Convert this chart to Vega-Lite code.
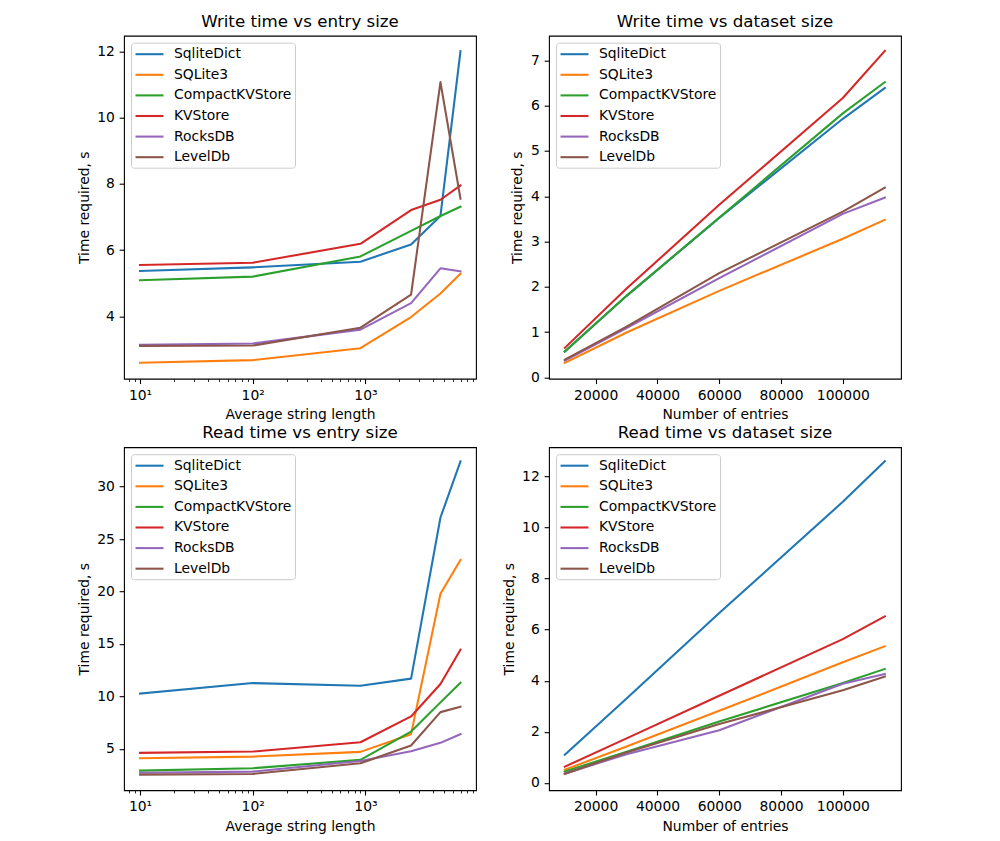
{
  "$schema": "https://vega.github.io/schema/vega-lite/v6.json",
  "background": "white",
  "padding": {"left": 76, "top": 12.7, "right": 5, "bottom": 5},
  "columns": 2,
  "spacing": {"row": 1.5, "column": 24},
  "datasets": {
    "A": [
      {"series": "SqliteDict", "x": 10, "y": 5.37}, {"series": "SqliteDict", "x": 100, "y": 5.48}, {"series": "SqliteDict", "x": 903, "y": 5.65}, {"series": "SqliteDict", "x": 2540, "y": 6.17}, {"series": "SqliteDict", "x": 4630, "y": 7.03}, {"series": "SqliteDict", "x": 6970, "y": 12.0},
      {"series": "SQLite3", "x": 10, "y": 2.60}, {"series": "SQLite3", "x": 100, "y": 2.68}, {"series": "SQLite3", "x": 903, "y": 3.04}, {"series": "SQLite3", "x": 2540, "y": 3.98}, {"series": "SQLite3", "x": 4630, "y": 4.69}, {"series": "SQLite3", "x": 6970, "y": 5.29},
      {"series": "CompactKVStore", "x": 10, "y": 5.09}, {"series": "CompactKVStore", "x": 100, "y": 5.20}, {"series": "CompactKVStore", "x": 903, "y": 5.81}, {"series": "CompactKVStore", "x": 2540, "y": 6.58}, {"series": "CompactKVStore", "x": 4630, "y": 7.03}, {"series": "CompactKVStore", "x": 6970, "y": 7.31},
      {"series": "KVStore", "x": 10, "y": 5.55}, {"series": "KVStore", "x": 100, "y": 5.62}, {"series": "KVStore", "x": 903, "y": 6.19}, {"series": "KVStore", "x": 2540, "y": 7.21}, {"series": "KVStore", "x": 4630, "y": 7.52}, {"series": "KVStore", "x": 6970, "y": 7.95},
      {"series": "RocksDB", "x": 10, "y": 3.14}, {"series": "RocksDB", "x": 100, "y": 3.18}, {"series": "RocksDB", "x": 903, "y": 3.60}, {"series": "RocksDB", "x": 2540, "y": 4.40}, {"series": "RocksDB", "x": 4630, "y": 5.45}, {"series": "RocksDB", "x": 6970, "y": 5.36},
      {"series": "LevelDb", "x": 10, "y": 3.11}, {"series": "LevelDb", "x": 100, "y": 3.12}, {"series": "LevelDb", "x": 903, "y": 3.66}, {"series": "LevelDb", "x": 2540, "y": 4.66}, {"series": "LevelDb", "x": 4630, "y": 11.07}, {"series": "LevelDb", "x": 6970, "y": 7.55}
    ],
    "B": [
      {"series": "SqliteDict", "x": 10000, "y": 0.57}, {"series": "SqliteDict", "x": 30000, "y": 1.80}, {"series": "SqliteDict", "x": 60000, "y": 3.52}, {"series": "SqliteDict", "x": 100000, "y": 5.71}, {"series": "SqliteDict", "x": 113600, "y": 6.39},
      {"series": "SQLite3", "x": 10000, "y": 0.32}, {"series": "SQLite3", "x": 30000, "y": 0.99}, {"series": "SQLite3", "x": 60000, "y": 1.91}, {"series": "SQLite3", "x": 100000, "y": 3.06}, {"series": "SQLite3", "x": 113600, "y": 3.48},
      {"series": "CompactKVStore", "x": 10000, "y": 0.57}, {"series": "CompactKVStore", "x": 30000, "y": 1.80}, {"series": "CompactKVStore", "x": 60000, "y": 3.53}, {"series": "CompactKVStore", "x": 100000, "y": 5.83}, {"series": "CompactKVStore", "x": 113600, "y": 6.52},
      {"series": "KVStore", "x": 10000, "y": 0.65}, {"series": "KVStore", "x": 30000, "y": 1.96}, {"series": "KVStore", "x": 60000, "y": 3.81}, {"series": "KVStore", "x": 100000, "y": 6.17}, {"series": "KVStore", "x": 113600, "y": 7.21},
      {"series": "RocksDB", "x": 10000, "y": 0.37}, {"series": "RocksDB", "x": 30000, "y": 1.09}, {"series": "RocksDB", "x": 60000, "y": 2.19}, {"series": "RocksDB", "x": 100000, "y": 3.61}, {"series": "RocksDB", "x": 113600, "y": 3.97},
      {"series": "LevelDb", "x": 10000, "y": 0.39}, {"series": "LevelDb", "x": 30000, "y": 1.12}, {"series": "LevelDb", "x": 60000, "y": 2.30}, {"series": "LevelDb", "x": 100000, "y": 3.66}, {"series": "LevelDb", "x": 113600, "y": 4.19}
    ],
    "C": [
      {"series": "SqliteDict", "x": 10, "y": 10.26}, {"series": "SqliteDict", "x": 100, "y": 11.27}, {"series": "SqliteDict", "x": 903, "y": 11.02}, {"series": "SqliteDict", "x": 2540, "y": 11.69}, {"series": "SqliteDict", "x": 4630, "y": 27.05}, {"series": "SqliteDict", "x": 6970, "y": 32.4},
      {"series": "SQLite3", "x": 10, "y": 4.10}, {"series": "SQLite3", "x": 100, "y": 4.26}, {"series": "SQLite3", "x": 903, "y": 4.71}, {"series": "SQLite3", "x": 2540, "y": 6.40}, {"series": "SQLite3", "x": 4630, "y": 19.78}, {"series": "SQLite3", "x": 6970, "y": 23.0},
      {"series": "CompactKVStore", "x": 10, "y": 2.93}, {"series": "CompactKVStore", "x": 100, "y": 3.15}, {"series": "CompactKVStore", "x": 903, "y": 3.95}, {"series": "CompactKVStore", "x": 2540, "y": 6.65}, {"series": "CompactKVStore", "x": 4630, "y": 9.43}, {"series": "CompactKVStore", "x": 6970, "y": 11.31},
      {"series": "KVStore", "x": 10, "y": 4.62}, {"series": "KVStore", "x": 100, "y": 4.74}, {"series": "KVStore", "x": 903, "y": 5.63}, {"series": "KVStore", "x": 2540, "y": 8.09}, {"series": "KVStore", "x": 4630, "y": 11.18}, {"series": "KVStore", "x": 6970, "y": 14.46},
      {"series": "RocksDB", "x": 10, "y": 2.73}, {"series": "RocksDB", "x": 100, "y": 2.83}, {"series": "RocksDB", "x": 903, "y": 3.85}, {"series": "RocksDB", "x": 2540, "y": 4.77}, {"series": "RocksDB", "x": 4630, "y": 5.57}, {"series": "RocksDB", "x": 6970, "y": 6.40},
      {"series": "LevelDb", "x": 10, "y": 2.54}, {"series": "LevelDb", "x": 100, "y": 2.61}, {"series": "LevelDb", "x": 903, "y": 3.62}, {"series": "LevelDb", "x": 2540, "y": 5.32}, {"series": "LevelDb", "x": 4630, "y": 8.50}, {"series": "LevelDb", "x": 6970, "y": 9.02}
    ],
    "D": [
      {"series": "SqliteDict", "x": 10000, "y": 1.10}, {"series": "SqliteDict", "x": 30000, "y": 3.30}, {"series": "SqliteDict", "x": 60000, "y": 6.65}, {"series": "SqliteDict", "x": 100000, "y": 11.01}, {"series": "SqliteDict", "x": 113600, "y": 12.6},
      {"series": "SQLite3", "x": 10000, "y": 0.51}, {"series": "SQLite3", "x": 30000, "y": 1.42}, {"series": "SQLite3", "x": 60000, "y": 2.82}, {"series": "SQLite3", "x": 100000, "y": 4.72}, {"series": "SQLite3", "x": 113600, "y": 5.35},
      {"series": "CompactKVStore", "x": 10000, "y": 0.44}, {"series": "CompactKVStore", "x": 30000, "y": 1.22}, {"series": "CompactKVStore", "x": 60000, "y": 2.40}, {"series": "CompactKVStore", "x": 100000, "y": 3.91}, {"series": "CompactKVStore", "x": 113600, "y": 4.46},
      {"series": "KVStore", "x": 10000, "y": 0.63}, {"series": "KVStore", "x": 30000, "y": 1.74}, {"series": "KVStore", "x": 60000, "y": 3.41}, {"series": "KVStore", "x": 100000, "y": 5.63}, {"series": "KVStore", "x": 113600, "y": 6.52},
      {"series": "RocksDB", "x": 10000, "y": 0.36}, {"series": "RocksDB", "x": 30000, "y": 1.12}, {"series": "RocksDB", "x": 60000, "y": 2.06}, {"series": "RocksDB", "x": 100000, "y": 3.88}, {"series": "RocksDB", "x": 113600, "y": 4.26},
      {"series": "LevelDb", "x": 10000, "y": 0.35}, {"series": "LevelDb", "x": 30000, "y": 1.19}, {"series": "LevelDb", "x": 60000, "y": 2.30}, {"series": "LevelDb", "x": 100000, "y": 3.63}, {"series": "LevelDb", "x": 113600, "y": 4.16}
    ]
  },
  "concat": [
    {
      "width": 352, "height": 343,
      "title": "Write time vs entry size",
      "data": {"name": "A"},
      "mark": {"type": "line", "strokeWidth": 2.08, "strokeJoin": "round", "strokeCap": "square"},
      "encoding": {
        "x": {"field": "x", "type": "quantitative",
          "scale": {"type": "log", "domain": [7.21, 9570], "nice": false},
          "axis": {"title": "Average string length",
            "values": [8, 9, 10, 20, 30, 40, 50, 60, 70, 80, 90, 100, 200, 300, 400, 500, 600, 700, 800, 900, 1000, 2000, 3000, 4000, 5000, 6000, 7000, 8000, 9000],
            "labelExpr": "datum.value == 10 ? '10¹' : datum.value == 100 ? '10²' : datum.value == 1000 ? '10³' : ''",
            "tickSize": {"condition": {"test": "datum.value == 10 || datum.value == 100 || datum.value == 1000", "value": 4.86}, "value": 2.78},
            "tickWidth": {"condition": {"test": "datum.value == 10 || datum.value == 100 || datum.value == 1000", "value": 1.1}, "value": 0.83}}},
        "y": {"field": "y", "type": "quantitative",
          "scale": {"domain": [2.12, 12.47], "nice": false, "zero": false},
          "axis": {"title": "Time required, s", "values": [4, 6, 8, 10, 12]}},
        "color": {"field": "series", "type": "nominal",
          "scale": {"domain": ["SqliteDict", "SQLite3", "CompactKVStore", "KVStore", "RocksDB", "LevelDb"], "range": ["#1f77b4", "#ff7f0e", "#2ca02c", "#d62728", "#9467bd", "#8c564b"]},
          "legend": {"title": null}}
      }
    },
    {
      "width": 352, "height": 343,
      "title": "Write time vs dataset size",
      "data": {"name": "B"},
      "mark": {"type": "line", "strokeWidth": 2.08, "strokeJoin": "round", "strokeCap": "square"},
      "encoding": {
        "x": {"field": "x", "type": "quantitative",
          "scale": {"domain": [4890, 118830], "nice": false, "zero": false},
          "axis": {"title": "Number of entries", "values": [20000, 40000, 60000, 80000, 100000], "format": "d"}},
        "y": {"field": "y", "type": "quantitative",
          "scale": {"domain": [-0.03, 7.545], "nice": false, "zero": false},
          "axis": {"title": "Time required, s", "values": [0, 1, 2, 3, 4, 5, 6, 7], "format": "d"}},
        "color": {"field": "series", "type": "nominal",
          "scale": {"domain": ["SqliteDict", "SQLite3", "CompactKVStore", "KVStore", "RocksDB", "LevelDb"], "range": ["#1f77b4", "#ff7f0e", "#2ca02c", "#d62728", "#9467bd", "#8c564b"]},
          "legend": {"title": null}}
      }
    },
    {
      "width": 352, "height": 343,
      "title": "Read time vs entry size",
      "data": {"name": "C"},
      "mark": {"type": "line", "strokeWidth": 2.08, "strokeJoin": "round", "strokeCap": "square"},
      "encoding": {
        "x": {"field": "x", "type": "quantitative",
          "scale": {"type": "log", "domain": [7.21, 9570], "nice": false},
          "axis": {"title": "Average string length",
            "values": [8, 9, 10, 20, 30, 40, 50, 60, 70, 80, 90, 100, 200, 300, 400, 500, 600, 700, 800, 900, 1000, 2000, 3000, 4000, 5000, 6000, 7000, 8000, 9000],
            "labelExpr": "datum.value == 10 ? '10¹' : datum.value == 100 ? '10²' : datum.value == 1000 ? '10³' : ''",
            "tickSize": {"condition": {"test": "datum.value == 10 || datum.value == 100 || datum.value == 1000", "value": 4.86}, "value": 2.78},
            "tickWidth": {"condition": {"test": "datum.value == 10 || datum.value == 100 || datum.value == 1000", "value": 1.1}, "value": 0.83}}},
        "y": {"field": "y", "type": "quantitative",
          "scale": {"domain": [1.06, 33.75], "nice": false, "zero": false},
          "axis": {"title": "Time required, s", "values": [5, 10, 15, 20, 25, 30]}},
        "color": {"field": "series", "type": "nominal",
          "scale": {"domain": ["SqliteDict", "SQLite3", "CompactKVStore", "KVStore", "RocksDB", "LevelDb"], "range": ["#1f77b4", "#ff7f0e", "#2ca02c", "#d62728", "#9467bd", "#8c564b"]},
          "legend": {"title": null}}
      }
    },
    {
      "width": 352, "height": 343,
      "title": "Read time vs dataset size",
      "data": {"name": "D"},
      "mark": {"type": "line", "strokeWidth": 2.08, "strokeJoin": "round", "strokeCap": "square"},
      "encoding": {
        "x": {"field": "x", "type": "quantitative",
          "scale": {"domain": [4890, 118830], "nice": false, "zero": false},
          "axis": {"title": "Number of entries", "values": [20000, 40000, 60000, 80000, 100000], "format": "d"}},
        "y": {"field": "y", "type": "quantitative",
          "scale": {"domain": [-0.29, 13.15], "nice": false, "zero": false},
          "axis": {"title": "Time required, s", "values": [0, 2, 4, 6, 8, 10, 12], "format": "d"}},
        "color": {"field": "series", "type": "nominal",
          "scale": {"domain": ["SqliteDict", "SQLite3", "CompactKVStore", "KVStore", "RocksDB", "LevelDb"], "range": ["#1f77b4", "#ff7f0e", "#2ca02c", "#d62728", "#9467bd", "#8c564b"]},
          "legend": {"title": null}}
      }
    }
  ],
  "resolve": {"legend": {"color": "independent"}},
  "config": {
    "font": "DejaVu Sans",
    "view": {"stroke": "black", "strokeWidth": 1.1},
    "axis": {
      "domain": false, "grid": false,
      "tickColor": "black", "tickWidth": 1.1, "tickSize": 4.86,
      "labelPadding": 4.86, "labelFontSize": 13.9, "labelFont": "DejaVu Sans", "labelColor": "black",
      "titleFontSize": 13.9, "titleFont": "DejaVu Sans", "titleFontWeight": "normal", "titleColor": "black",
      "titlePadding": 5.6, "minExtent": 0, "labelFlush": false, "labelOverlap": false, "labelBound": false
    },
    "title": {"fontSize": 16.67, "font": "DejaVu Sans", "fontWeight": "normal", "color": "black", "offset": 5.3, "baseline": "alphabetic", "anchor": "middle", "frame": "group"},
    "legend": {
      "orient": "top-left", "offset": 7, "padding": 3,
      "strokeColor": "#cccccc", "fillColor": "rgba(255,255,255,0.8)", "cornerRadius": 3,
      "symbolType": "M-1,0L3,0", "symbolSize": 196, "symbolStrokeWidth": 2.08,
      "labelFontSize": 13.9, "labelFont": "DejaVu Sans", "labelColor": "black",
      "labelOffset": 23, "rowPadding": 4.6, "labelLimit": 300
    }
  }
}
